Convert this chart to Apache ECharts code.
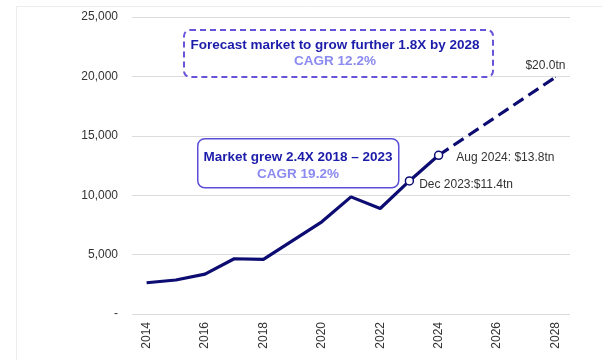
<!DOCTYPE html>
<html>
<head>
<meta charset="utf-8">
<script src="https://cdn.jsdelivr.net/npm/echarts@6/dist/echarts.min.js"></script>
<style>html,body{margin:0;padding:0;background:#fff}#c{width:602px;height:360px}</style>
</head>
<body>
<div id="c"></div>
<script>
const years = ['2014','2015','2016','2017','2018','2019','2020','2021','2022','2023','2024','2025','2026','2027','2028'];
const actual = [2630, 2860, 3360, 4650, 4600, 6180, 7760, 9860, 8880, 11200, 13360, null, null, null, null];
const forecast = [null, null, null, null, null, null, null, null, null, null, 13360, null, null, null, 19930];
const yTicks = [0, 5000, 10000, 15000, 20000, 25000];
const pointLabels = { '2023': 'Dec 2023:$11.4tn', '2024': 'Aug 2024: $13.8tn', '2028': '$20.0tn' };
const box1 = ['Forecast market to grow further 1.8X by 2028', 'CAGR 12.2%'];
const box2 = ['Market grew 2.4X 2018 – 2023', 'CAGR 19.2%'];

const navy = '#0c0c72';
const font = 'Arial, "Liberation Sans", sans-serif';

const actualData = actual.map((v, i) => {
  const y = years[i];
  if (y === '2023') return { value: v, symbol: 'circle', symbolSize: 8,
    itemStyle: { color: '#fff', borderColor: navy, borderWidth: 1.5 },
    label: { show: true, position: 'right', offset: [0, 4], formatter: pointLabels[y], color: '#333', fontSize: 12, fontFamily: font } };
  if (y === '2024') return { value: v, symbol: 'circle', symbolSize: 8,
    itemStyle: { color: '#fff', borderColor: navy, borderWidth: 1.5 },
    label: { show: true, position: 'right', offset: [8, 2], formatter: pointLabels[y], color: '#333', fontSize: 12, fontFamily: font } };
  return { value: v, symbol: 'none' };
});
const forecastData = forecast.map((v, i) => {
  const y = years[i];
  if (y === '2028') return { value: v, symbol: 'circle', symbolSize: 1, itemStyle: { color: navy },
    label: { show: true, position: 'top', offset: [-10, 0], formatter: pointLabels[y], color: '#333', fontSize: 12, fontFamily: font } };
  return { value: v, symbol: 'none' };
});

const chart = echarts.init(document.getElementById('c'), null, { renderer: 'canvas' });
chart.setOption({
  animation: false,
  backgroundColor: '#fff',
  grid: { left: 132, right: 32, top: 17, bottom: 46, containLabel: false },
  xAxis: {
    type: 'category', data: years, boundaryGap: true,
    axisLine: { show: false }, axisTick: { show: false },
    axisLabel: { interval: 1, rotate: 90, color: '#333', fontSize: 12, fontFamily: font, margin: 8 }
  },
  yAxis: {
    type: 'value', min: yTicks[0], max: yTicks[yTicks.length - 1], interval: 5000,
    axisLine: { show: false }, axisTick: { show: false },
    splitLine: { lineStyle: { color: '#dcdcdc', width: 1 } },
    axisLabel: { color: '#333', fontSize: 12, fontFamily: font, margin: 14,
      formatter: v => v === 0 ? '-' : v.toLocaleString('en-US') }
  },
  series: [
    { type: 'line', data: forecastData, connectNulls: true, z: 2,
      lineStyle: { color: navy, width: 3.2, type: [12, 6] }, itemStyle: { color: navy } },
    { type: 'line', data: actualData, z: 3,
      lineStyle: { color: navy, width: 3.2 }, itemStyle: { color: navy } }
  ],
  graphic: [
    { type: 'rect', left: 14, top: 4, shape: { width: 600, height: 355 }, silent: true,
      style: { fill: 'none', stroke: '#ececec', lineWidth: 1 }, z: -10 },
    { type: 'rect', left: 183, top: 29, shape: { width: 309, height: 47, r: 6 },
      style: { fill: '#fff', stroke: '#6655d8', lineWidth: 2, lineDash: [6, 4] }, z: 10 },
    { type: 'text', x: 335, y: 45, z: 11,
      style: { text: box1[0], fill: '#1c1caa', font: 'bold 13.5px ' + font, align: 'center', verticalAlign: 'middle' } },
    { type: 'text', x: 335, y: 61, z: 11,
      style: { text: box1[1], fill: '#8a8af0', font: 'bold 13.5px ' + font, align: 'center', verticalAlign: 'middle' } },
    { type: 'rect', left: 197, top: 138, shape: { width: 201, height: 49, r: 7 },
      style: { fill: '#fff', stroke: '#5a4fd6', lineWidth: 1.5 }, z: 10 },
    { type: 'text', x: 298, y: 157, z: 11,
      style: { text: box2[0], fill: '#1c1caa', font: 'bold 13.5px ' + font, align: 'center', verticalAlign: 'middle' } },
    { type: 'text', x: 298, y: 174, z: 11,
      style: { text: box2[1], fill: '#8a8af0', font: 'bold 13.5px ' + font, align: 'center', verticalAlign: 'middle' } }
  ]
});
</script>
</body>
</html>
